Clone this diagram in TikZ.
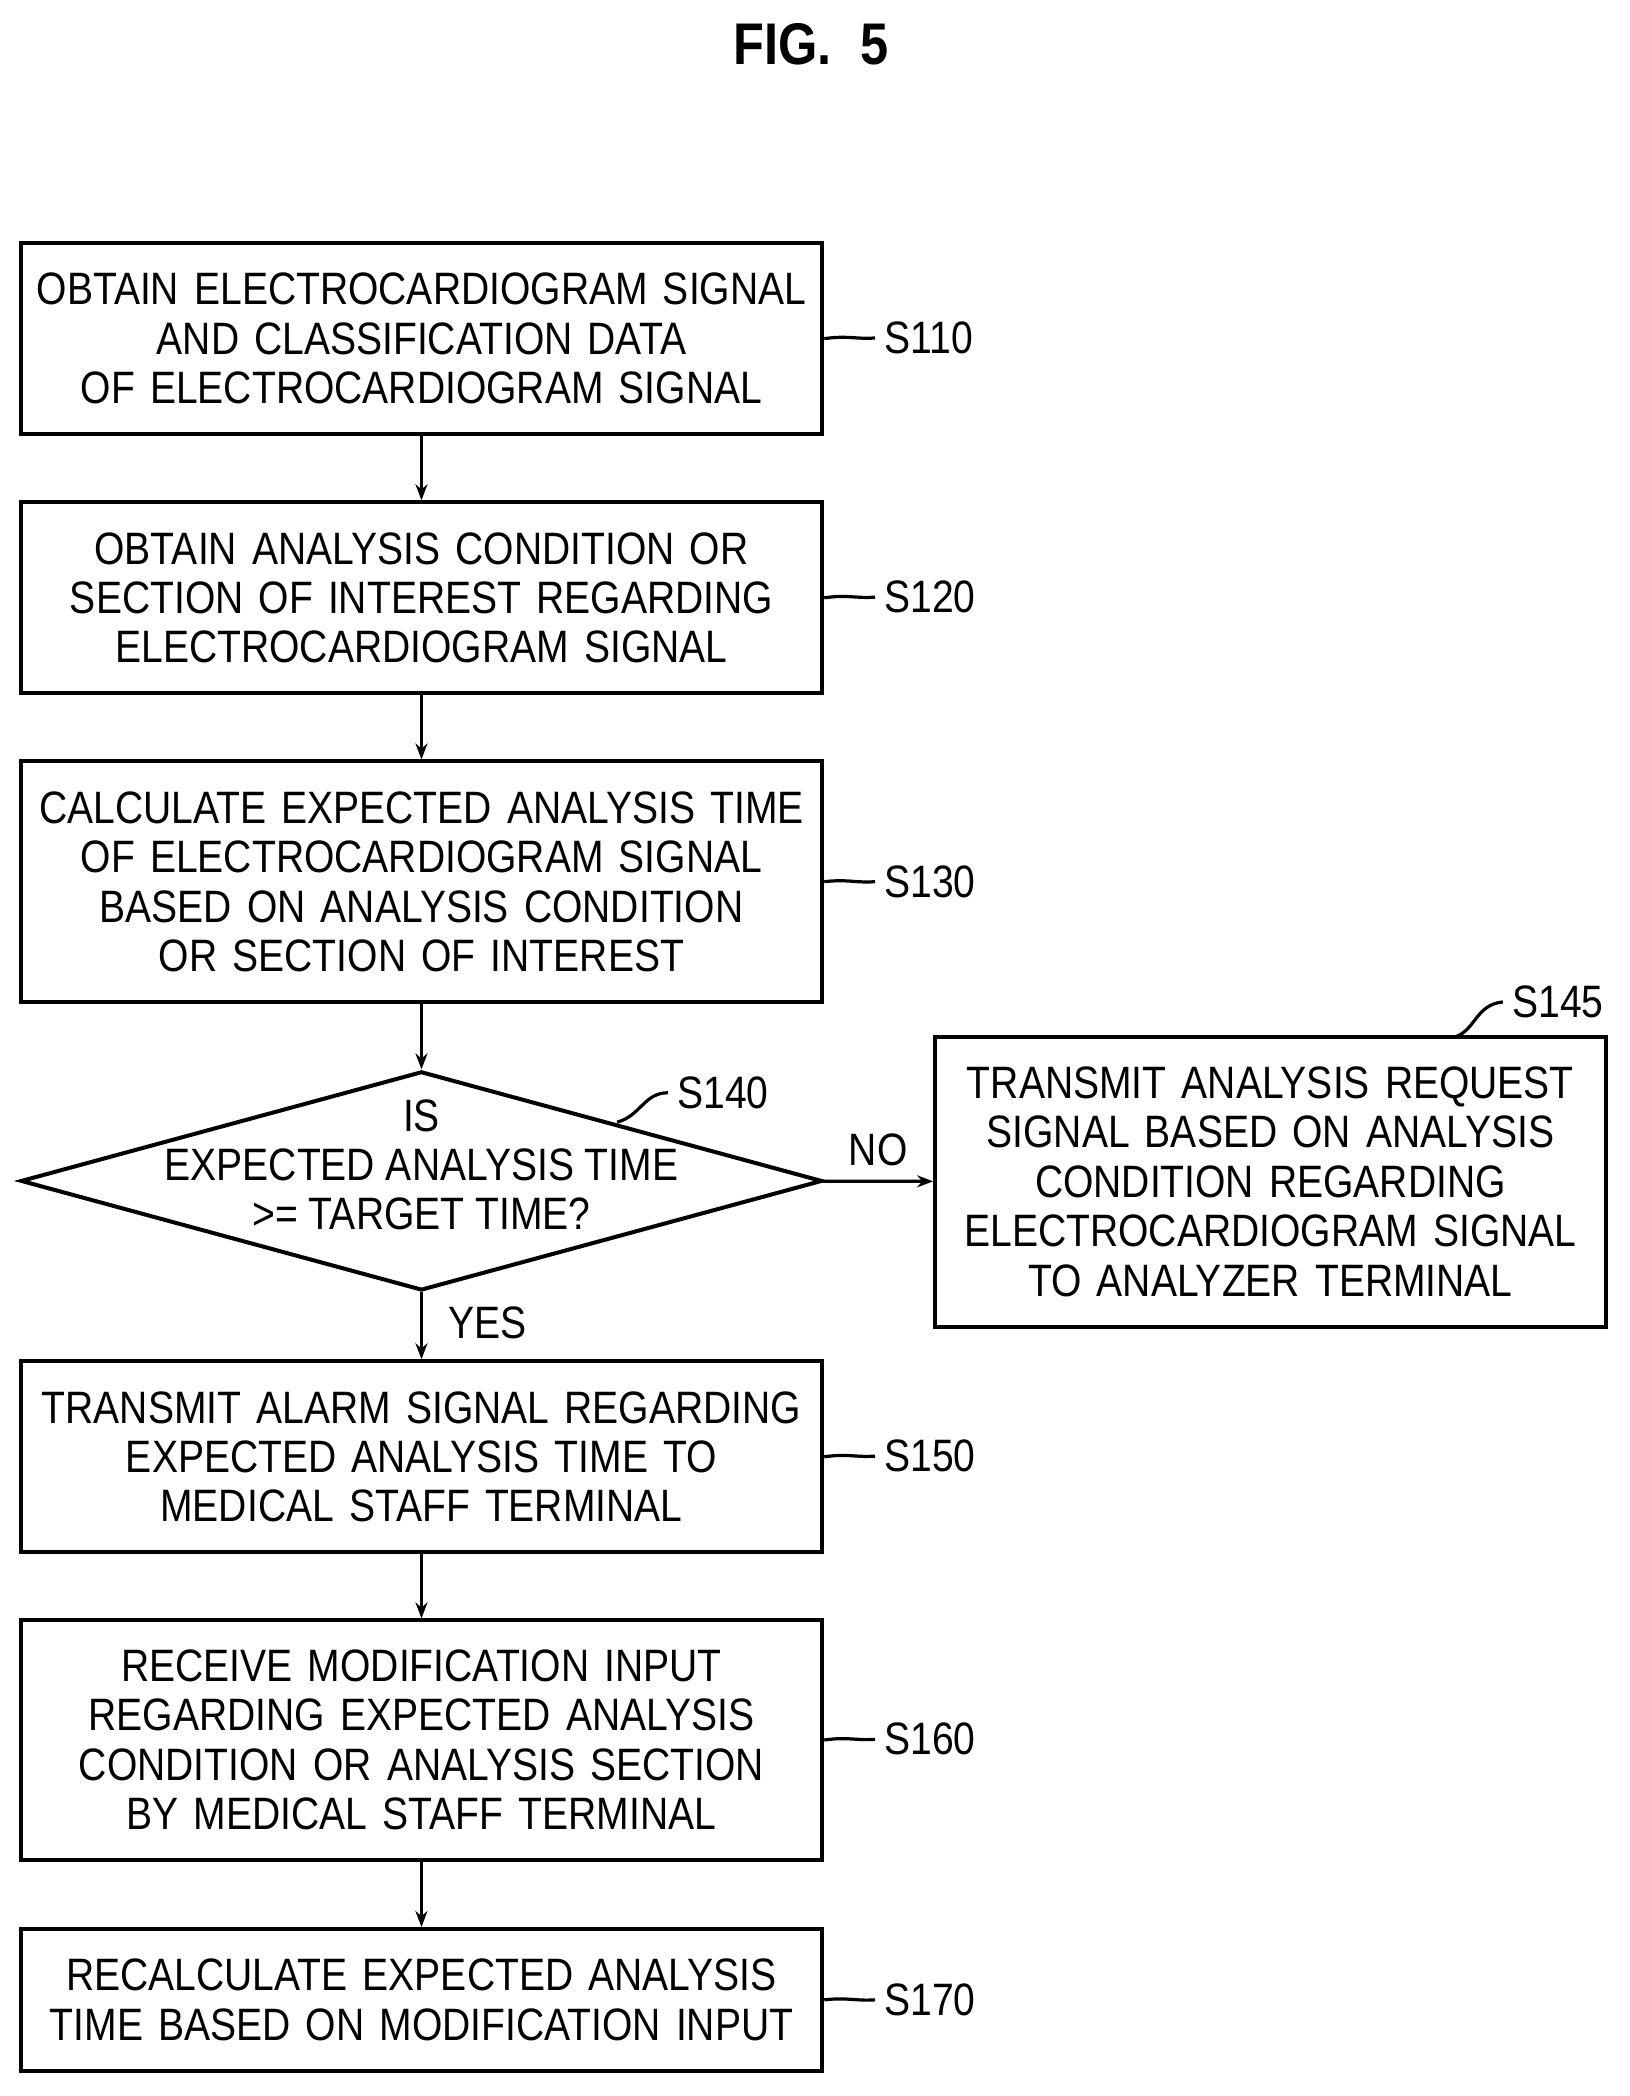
\documentclass[tikz,border=0pt]{standalone}
\usepackage{fontspec}
\setmainfont[FakeStretch=0.86]{Liberation Sans}
\usetikzlibrary{shapes.geometric,arrows.meta}
\begin{document}
\begin{tikzpicture}[x=0.5pt,y=-0.5pt,
  every node/.style={font=\fontsize{17}{18.5}\selectfont},
  procbox/.style={draw,line width=1.5pt,minimum width=300pt,text width=295pt,align=center,inner sep=0pt},
  tag/.style={anchor=west},
  arr/.style={line width=1.2pt,-{Stealth[length=6pt]}}]
\useasboundingbox (0,0) rectangle (1220,1569);
\node[font=\fontsize{22}{24}\bfseries\rmfamily] (title) at (607,33) {FIG.\ \ 5};
% boxes
\node[procbox,minimum height=71.5pt] (s110) at (315.5,253.5) {OBTAIN ELECTROCARDIOGRAM SIGNAL\\AND CLASSIFICATION DATA\\OF ELECTROCARDIOGRAM SIGNAL};
\node[procbox,minimum height=71.5pt] (s120) at (315.5,447.5) {OBTAIN ANALYSIS CONDITION OR\\SECTION OF INTEREST REGARDING\\ELECTROCARDIOGRAM SIGNAL};
\node[procbox,minimum height=90pt] (s130) at (315.5,660) {CALCULATE EXPECTED ANALYSIS TIME\\OF ELECTROCARDIOGRAM SIGNAL\\BASED ON ANALYSIS CONDITION\\OR SECTION OF INTEREST};
\node[draw,line width=1.5pt,diamond,minimum width=300pt,minimum height=82pt,inner sep=0pt,align=center] (s140) at (315.5,884) {};
\node[align=center] (s140t) at (315.5,872) {IS\\EXPECTED ANALYSIS TIME\\>= TARGET TIME?};
\node[procbox,minimum width=251pt,text width=246pt,minimum height=108.5pt] (s145) at (951,884.5) {TRANSMIT ANALYSIS REQUEST\\SIGNAL BASED ON ANALYSIS\\CONDITION REGARDING\\ELECTROCARDIOGRAM SIGNAL\\TO ANALYZER TERMINAL};
\node[procbox,minimum height=71.5pt] (s150) at (315.5,1090.5) {TRANSMIT ALARM SIGNAL REGARDING\\EXPECTED ANALYSIS TIME TO\\MEDICAL STAFF TERMINAL};
\node[procbox,minimum height=89.5pt] (s160) at (315.5,1302.5) {RECEIVE MODIFICATION INPUT\\REGARDING EXPECTED ANALYSIS\\CONDITION OR ANALYSIS SECTION\\BY MEDICAL STAFF TERMINAL};
\node[procbox,minimum height=53pt] (s170) at (315.5,1497) {RECALCULATE EXPECTED ANALYSIS\\TIME BASED ON MODIFICATION INPUT};
% arrows
\draw[arr] (s110) -- (s120);
\draw[arr] (s120) -- (s130);
\draw[arr] (s130) -- (s140);
\draw[arr] (s140) -- node[above,pos=0.5,yshift=2pt] {NO} (s145);
\draw[arr] (s140) -- node[right,pos=0.45,xshift=6pt] {YES} (s150);
\draw[arr] (s150) -- (s160);
\draw[arr] (s160) -- (s170);
% step labels
\foreach \n/\y in {s110/253,s120/447,s130/660,s150/1090,s160/1302,s170/1497}{
  \coordinate (c\n) at (655,\y);
  \draw[line width=1.2pt] (\n.east) .. controls (635,\y-2) and (640,\y+1) .. (c\n);
  \node[tag] (l\n) at (c\n) {\MakeUppercase{\n}};
}
\coordinate (cs140) at (500,818);
\draw[line width=1.2pt] (462,840) .. controls (480,835) and (482,818) .. (cs140);
\node[tag] (ls140) at (cs140) {S140};
\coordinate (cs145) at (1125,750);
\draw[line width=1.2pt] (1090,776) .. controls (1105,770) and (1105,752) .. (cs145);
\node[tag] (ls145) at (cs145) {S145};
\end{tikzpicture}
\end{document}
